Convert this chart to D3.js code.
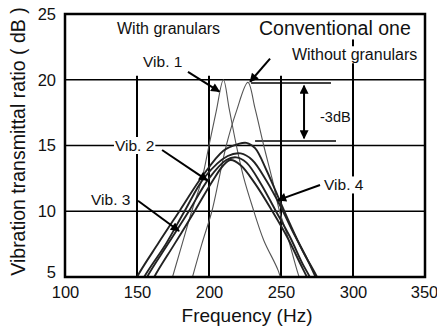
<!DOCTYPE html>
<html>
<head>
<meta charset="utf-8">
<script src="https://cdn.jsdelivr.net/npm/d3@7"></script>
<style>
  body { margin: 0; background: #fff; }
  text { font-family: "Liberation Sans", Arial, sans-serif; fill: #111; }
</style>
</head>
<body>
<svg width="437" height="330"></svg>
<script>
// axis ticks
var xTicks = [100, 150, 200, 250, 300, 350];
var yTicks = [5, 10, 15, 20, 25];

// [frequency Hz, ratio dB]
// narrow peaks (thin lines)
var thinA = [[172, 4], [180, 7], [188, 10], [195, 12.4], [200, 15], [205, 17.6], [210, 20], [214, 17.8], [219, 15], [224, 12.6], [230, 10.4], [238, 7.8], [248, 5.5], [252, 4]];
var thinB = [[186, 4], [195, 7.5], [202, 10], [207, 12.5], [212, 15], [219, 17.6], [227, 19.8], [232, 17.8], [238, 15], [244, 12.4], [249, 10], [254, 8.3], [262, 5.2], [266, 4]];

// broad peaks, with granulars (thick lines)
var vib1 = [[146, 4], [150, 5], [165, 7.6], [180, 10.1], [195, 12.6], [210, 14.6], [220, 15.1], [226, 15.2], [232, 14.8], [240, 13.1], [248, 11.1], [256, 9.1], [265, 7], [275, 5], [279, 4]];
var vib2 = [[153, 4], [157, 5], [172, 7.6], [186, 10], [200, 12.5], [212, 13.9], [219, 14.1], [226, 13.7], [236, 12.1], [246, 10.1], [256, 8.1], [265, 6], [270, 5], [274, 4]];
var vib3 = [[158, 4], [162, 5], [176, 7.5], [190, 10], [203, 12.4], [210, 13.5], [215, 13.9], [222, 13.5], [232, 12.1], [244, 10], [254, 8.1], [263, 6.1], [268, 5], [272, 4]];
var vib4 = [[151, 4], [155, 5], [170, 7.5], [183, 10], [197, 12.6], [213, 14.2], [222, 14.4], [230, 13.9], [240, 12.3], [250, 10.3], [258, 8.5], [268, 6.4], [274, 5], [278, 4]];

var thinSeries = [thinA, thinB];
var thickSeries = [vib1, vib2, vib3, vib4];

// labels: [text, freq, dB, font size]
var labels = [
    ["With granulars", 136.1, 23.9, 16],
    ["Conventional one", 234.7, 23.9, 19.5],
    ["Without granulars", 257.6, 21.9, 16],
    ["Vib. 1", 154.2, 21.35, 15.5],
    ["Vib. 2", 134.7, 15.0, 15.5],
    ["Vib. 3", 118.1, 10.9, 15.5],
    ["Vib. 4", 279.9, 12.0, 15.5],
    ["-3dB", 277.1, 17.15, 14.5]
];

// arrows: [from freq, from dB, to freq, to dB]
var arrows = [
    [185.4, 20.6, 207.2, 19.1],
    [242.4, 21.6, 228.5, 19.85],
    [167.4, 14.66, 198.8, 12.35],
    [150.7, 10.8, 179.2, 8.5],
    [277.1, 12.0, 247.9, 10.85]
];

var svg = d3.select("svg"),
    width = +svg.attr("width"),
    height = +svg.attr("height");

var margin = { top: 14, right: 12, bottom: 53, left: 65 };

var x = d3.scaleLinear().domain([100, 350]).range([margin.left, width - margin.right]);
var y = d3.scaleLinear().domain([5, 25]).range([height - margin.bottom, margin.top]);

var defs = svg.append("defs");
defs.append("clipPath").attr("id", "plot")
    .append("rect")
    .attr("x", x(100)).attr("y", y(25))
    .attr("width", x(350) - x(100)).attr("height", y(5) - y(25));

defs.append("marker")
    .attr("id", "head")
    .attr("viewBox", "0 0 10 10")
    .attr("refX", 9).attr("refY", 5)
    .attr("markerWidth", 5).attr("markerHeight", 4.5)
    .attr("markerUnits", "strokeWidth")
    .attr("orient", "auto-start-reverse")
    .append("path")
    .attr("d", "M0,0 L10,5 L0,10 z")
    .attr("fill", "#000");

//grid lines
var grid = svg.append("g").attr("stroke", "#000");
[10, 15, 20].forEach(function (d) {
    grid.append("line")
        .attr("x1", x(100)).attr("x2", x(350))
        .attr("y1", y(d)).attr("y2", y(d))
        .attr("stroke-width", 1.5);
});
[150, 200, 250].forEach(function (d) {
    grid.append("line")
        .attr("x1", x(d)).attr("x2", x(d))
        .attr("y1", y(20.3)).attr("y2", y(5))
        .attr("stroke-width", 2);
});
grid.append("line")
    .attr("x1", x(300)).attr("x2", x(300))
    .attr("y1", y(23.15)).attr("y2", y(5))
    .attr("stroke-width", 2);

// -3dB marker
grid.append("line")
    .attr("x1", x(229.2)).attr("x2", x(284.7))
    .attr("y1", y(19.75)).attr("y2", y(19.75))
    .attr("stroke-width", 1.5);
grid.append("line")
    .attr("x1", x(232)).attr("x2", x(288.2))
    .attr("y1", y(15.34)).attr("y2", y(15.34))
    .attr("stroke-width", 1.5);
grid.append("line")
    .attr("x1", x(266)).attr("x2", x(266))
    .attr("y1", y(19.55)).attr("y2", y(15.55))
    .attr("stroke-width", 2)
    .attr("marker-start", "url(#head)")
    .attr("marker-end", "url(#head)");

//curves
var line = d3.line()
    .x(function (d) { return x(d[0]); })
    .y(function (d) { return y(d[1]); })
    .curve(d3.curveCatmullRom.alpha(0.5));

var curves = svg.append("g").attr("clip-path", "url(#plot)").attr("fill", "none");

curves.selectAll(".thin")
    .data(thinSeries)
    .enter().append("path")
    .attr("class", "thin")
    .attr("d", line)
    .attr("stroke", "#555")
    .attr("stroke-width", 1.1);

curves.selectAll(".thick")
    .data(thickSeries)
    .enter().append("path")
    .attr("class", "thick")
    .attr("d", line)
    .attr("stroke", "#222")
    .attr("stroke-width", 1.9);

//labels, white box behind each one
var lab = svg.append("g").selectAll("g")
    .data(labels)
    .enter().append("g");

lab.append("text")
    .attr("x", function (d) { return x(d[1]); })
    .attr("y", function (d) { return y(d[2]); })
    .attr("dominant-baseline", "central")
    .style("font-size", function (d) { return d[3] + "px"; })
    .text(function (d) { return d[0]; });

lab.each(function () {
    var g = d3.select(this);
    var b = g.select("text").node().getBBox();
    g.insert("rect", "text")
        .attr("x", b.x - 1).attr("y", b.y)
        .attr("width", b.width + 2).attr("height", b.height)
        .attr("fill", "#fff");
});

svg.append("g").selectAll("line")
    .data(arrows)
    .enter().append("line")
    .attr("x1", function (d) { return x(d[0]); })
    .attr("y1", function (d) { return y(d[1]); })
    .attr("x2", function (d) { return x(d[2]); })
    .attr("y2", function (d) { return y(d[3]); })
    .attr("stroke", "#000")
    .attr("stroke-width", 2)
    .attr("marker-end", "url(#head)");

//frame
svg.append("rect")
    .attr("x", x(100)).attr("y", y(25))
    .attr("width", x(350) - x(100)).attr("height", y(5) - y(25))
    .attr("fill", "none")
    .attr("stroke", "#000")
    .attr("stroke-width", 2.5);

//axes
var xAxis = svg.append("g")
    .attr("transform", "translate(0," + y(5) + ")")
    .call(d3.axisBottom(x).tickValues(xTicks).tickSize(0).tickPadding(9));
var yAxis = svg.append("g")
    .attr("transform", "translate(" + x(100) + ",0)")
    .call(d3.axisLeft(y).tickValues(yTicks).tickSize(0).tickPadding(9));

[xAxis, yAxis].forEach(function (a) {
    a.select(".domain").remove();
    a.selectAll("text")
        .style("font-size", "16.5px")
        .attr("fill", "#111")
        .style("font-family", "'Liberation Sans', Arial, sans-serif");
});

// last x label sits on the window edge, lowest y label sits a bit higher
xAxis.selectAll("text").filter(function (d) { return d === 350; }).attr("dx", "-1px");
yAxis.selectAll("text").filter(function (d) { return d === 5; }).attr("dy", "0.05em");

svg.append("text")
    .attr("x", (x(100) + x(350)) / 2 + 2)
    .attr("y", 315)
    .attr("text-anchor", "middle")
    .attr("dominant-baseline", "central")
    .style("font-size", "19px")
    .text("Frequency (Hz)");

svg.append("text")
    .attr("transform", "translate(18," + (y(15) - 4) + ") rotate(-90)")
    .attr("text-anchor", "middle")
    .attr("dominant-baseline", "central")
    .style("font-size", "19.5px")
    .text("Vibration transmittal ratio ( dB )");
</script>
</body>
</html>
